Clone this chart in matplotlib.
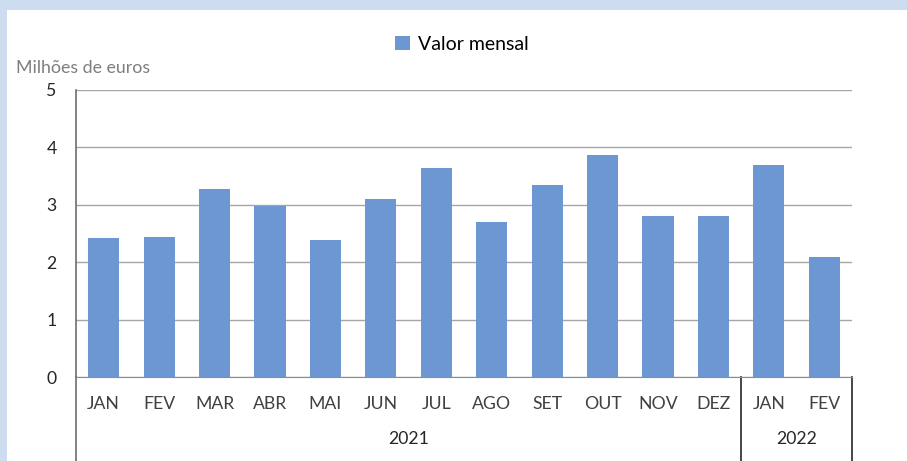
import matplotlib.pyplot as plt
from matplotlib.patches import Rectangle
from matplotlib.lines import Line2D
import numpy as np

plt.rcParams['font.family'] = ['Lato', 'DejaVu Sans']

months = ['JAN', 'FEV', 'MAR', 'ABR', 'MAI', 'JUN', 'JUL', 'AGO', 'SET', 'OUT', 'NOV', 'DEZ', 'JAN', 'FEV']
values = [2.42, 2.44, 3.28, 2.98, 2.39, 3.10, 3.64, 2.70, 3.34, 3.87, 2.80, 2.80, 3.69, 2.09]
years = ['2021', '2022']
year_counts = [12, 2]

W, H = 907, 461
fig = plt.figure(figsize=(W / 100, H / 100), dpi=100)
fig.patch.set_facecolor('#cddcee')
fig.patches.append(Rectangle((7 / W, 0), 1, 1 - 10 / H, transform=fig.transFigure,
                             facecolor='white', edgecolor='none', zorder=-10))

ax = fig.add_axes([76 / W, 1 - 377 / H, (852 - 76) / W, (377 - 90) / H])
x = np.arange(len(months))
ax.bar(x, values, width=0.56, color='#6d97d3', label='Valor mensal', zorder=3)
ax.set_xlim(-0.5, len(months) - 0.5)
ax.set_ylim(0, 5)
ax.set_yticks(range(6))
ax.grid(axis='y', color='#a6a6a6', linewidth=1)
ax.set_xticks(x)
ax.set_xticklabels(months)
ax.tick_params(axis='x', length=0, pad=14, labelsize=12.7, colors='#404040')
ax.tick_params(axis='y', length=0, pad=14, labelsize=12.7, colors='#262626')
for s in ['top', 'right']:
    ax.spines[s].set_visible(False)
ax.spines['bottom'].set_color('#8c8c8c')
ax.spines['left'].set_color('#6e6e6e')
ax.spines['left'].set_linewidth(1.2)

# category group lines and year labels
tr = ax.get_xaxis_transform()
ybot = -(461 - 377) / (377 - 90)
edges = np.concatenate([[0], np.cumsum(year_counts)]) - 0.5
for e in edges:
    ax.add_line(Line2D([e, e], [0, ybot], transform=tr, color='#262626' if e > 0 else '#6e6e6e',
                       linewidth=1.2, clip_on=False))
for i, yr in enumerate(years):
    ax.text((edges[i] + edges[i + 1]) / 2, -(439 - 377) / (377 - 90), yr, transform=tr,
            ha='center', va='center', fontsize=12.7, color='#262626')

fig.text(16 / W, 1 - 68 / H, 'Milhões de euros', ha='left', va='center', fontsize=12.8, color='#7f7f7f')
fig.legend(loc='center', bbox_to_anchor=(462 / W, 1 - 44 / H), frameon=False, fontsize=14,
           handlelength=0.75, handleheight=0.75, handletextpad=0.4)

fig.savefig('out.png', dpi=100)
